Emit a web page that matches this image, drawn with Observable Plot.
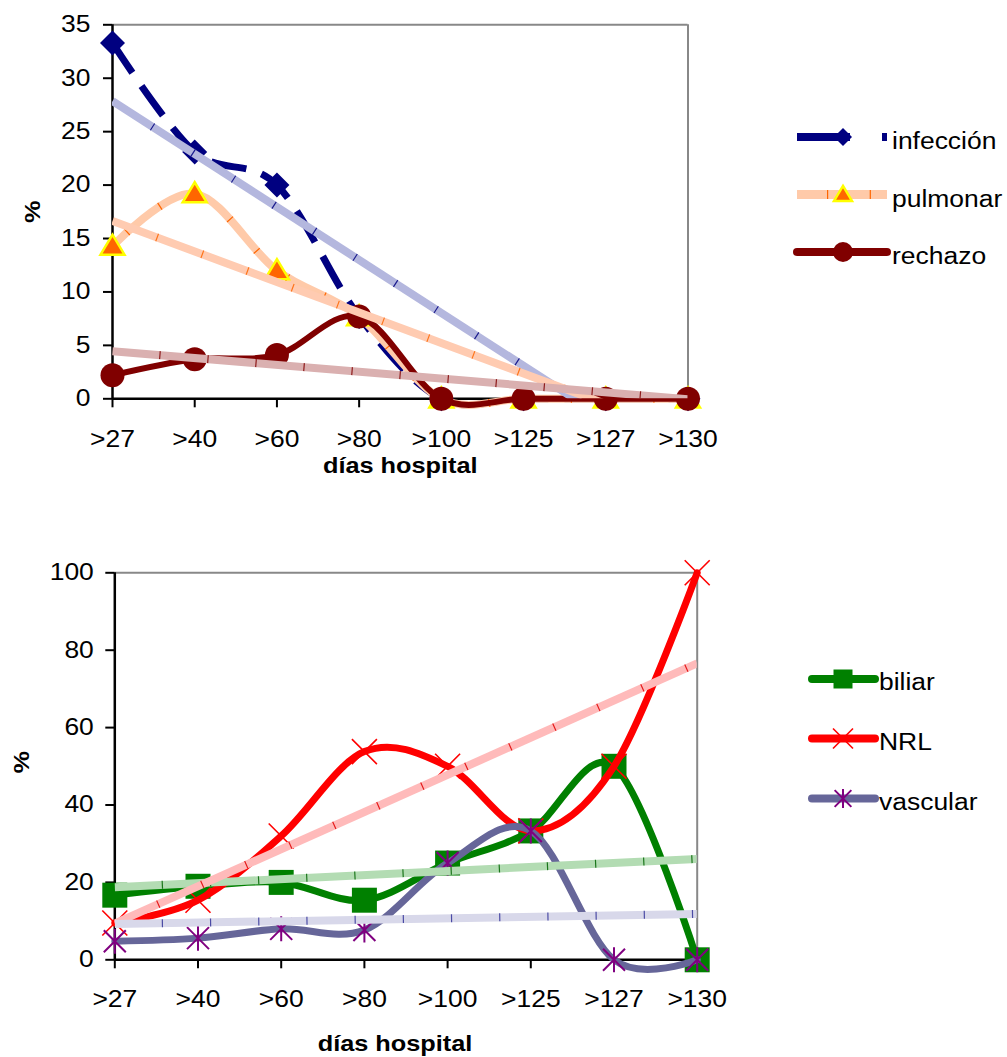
<!DOCTYPE html>
<html><head><meta charset="utf-8">
<script src="https://cdn.jsdelivr.net/npm/d3@7"></script>
<script src="https://cdn.jsdelivr.net/npm/@observablehq/plot@0.6"></script>
<style>
html,body{margin:0;padding:0;background:#fff;}
#page{position:relative;width:1007px;height:1057px;overflow:hidden;background:#fff;font-family:"Liberation Sans",Arial,sans-serif;}
#page svg{position:absolute;}
</style></head><body><div id="page"></div>
<script>
// ---------- data ----------
const labels = [">27", ">40", ">60", ">80", ">100", ">125", ">127", ">130"];
const infeccion = [33.3, 23.1, 20, 7.7, 0, 0, 0, 0];
const pulmonar  = [14.3, 19.2, 12, 7.7, 0, 0, 0, 0];
const rechazo   = [2.2, 3.7, 4.1, 7.7, 0, 0, 0, 0];
const biliar    = [16.7, 19, 20, 15.4, 25, 33.3, 50, 0];
const nrl       = [9.5, 15.4, 32, 53.8, 50, 33.3, 50, 100];
const vascular  = [4.8, 5.6, 8, 7.7, 25, 33.3, 0, 0];
const topTicks    = [0, 5, 10, 15, 20, 25, 30, 35];
const bottomTicks = [0, 20, 40, 60, 80, 100];
const xTitle = "días hospital";
const yTitle = "%";

// ---------- styling ----------
const FONT = '"Liberation Sans", Arial, sans-serif';
const STRETCH = 1.15;
const rad = s => Math.sqrt(s / Math.PI);
const symDiamond = {draw(c, s){const r=rad(s); c.moveTo(0,-r); c.lineTo(r,0); c.lineTo(0,r); c.lineTo(-r,0); c.closePath();}};
const symSquare  = {draw(c, s){const r=rad(s); c.rect(-r,-r,2*r,2*r);}};
const symTri     = {draw(c, s){const r=rad(s); c.moveTo(0,-0.95*r); c.lineTo(r,0.72*r); c.lineTo(-r,0.72*r); c.closePath();}};
const symCircle  = {draw(c, s){const r=rad(s); c.moveTo(r,0); c.arc(0,0,r,0,2*Math.PI);}};
const symX       = {draw(c, s){const r=rad(s); c.moveTo(-r,-r); c.lineTo(r,r); c.moveTo(-r,r); c.lineTo(r,-r);}};
const symAst     = {draw(c, s){const r=rad(s), a=r*0.88; c.moveTo(-a,-a); c.lineTo(a,a); c.moveTo(-a,a); c.lineTo(a,-a); c.moveTo(0,-r); c.lineTo(0,r);}};

const rows = (values) => values.map((v, i) => ({i, v}));

const topSeries = [
  {name: "infección", values: infeccion,
   line: {stroke: "#000080", strokeWidth: 7, strokeDasharray: "36,16", strokeLinecap: "butt"},
   dot: {symbol: symDiamond, r: 12.5, fill: "#000080"}, legendR: 9,
   trend: "#b4b7de", mark: "#000080"},
  {name: "pulmonar", values: pulmonar,
   line: {stroke: "#ffcaa9", strokeWidth: 8, strokeLinecap: "butt"}, lineMark: "#ff6600",
   dot: {symbol: symTri, r: 12, fill: "#ff6600", stroke: "#ffff00", strokeWidth: 2.5}, legendR: 9,
   trend: "#ffcbb1", mark: "#ff6600"},
  {name: "rechazo", values: rechazo,
   line: {stroke: "#800000", strokeWidth: 6},
   dot: {symbol: symCircle, r: 12, fill: "#800000"}, legendR: 10,
   trend: "#dab0b0", mark: "#800000"}
];
const bottomSeries = [
  {name: "biliar", values: biliar,
   line: {stroke: "#008000", strokeWidth: 7},
   dot: {symbol: symSquare, r: 12.5, fill: "#008000"}, legendR: 9.5,
   trend: "#b3dcb3", mark: "#006400"},
  {name: "NRL", values: nrl,
   line: {stroke: "#ff0000", strokeWidth: 7},
   dot: {symbol: symX, r: 12.5, fill: "none", stroke: "#ff0000", strokeWidth: 1.6}, legendR: 10,
   trend: "#ffbaba", mark: "#e00000"},
  {name: "vascular", values: vascular,
   line: {stroke: "#666699", strokeWidth: 7},
   dot: {symbol: symAst, r: 12.5, fill: "none", stroke: "#800080", strokeWidth: 2}, legendR: 9.5,
   trend: "#d8d8ea", mark: "#333399"}
];

function chart(series, ticks, o) {
  const n = labels.length;
  const yMax = ticks[ticks.length - 1];
  const marks = [
    Plot.ruleY([yMax], {stroke: "#888", strokeWidth: 2}),
    Plot.ruleX([n - 1], {stroke: "#888", strokeWidth: 2}),
    Plot.axisY({ticks, tickSize: 9, tickPadding: o.yPad, fontSize: 23, strokeWidth: 2, label: null}),
    Plot.axisX({ticks: d3.range(n), tickFormat: i => labels[i], tickSize: 9, tickPadding: o.xPad, fontSize: 23, strokeWidth: 2, label: null}),
    Plot.ruleX([0], {stroke: "black", strokeWidth: 2.5}),
    Plot.ruleY([0], {stroke: "black", strokeWidth: 2.5}),
  ];
  for (const s of series) {
    const d = rows(s.values);
    marks.push(Plot.line(d, {x: "i", y: "v", curve: "cardinal", ...s.line}));
    if (s.lineMark) marks.push(Plot.line(d, {x: "i", y: "v", curve: "cardinal", stroke: s.lineMark, strokeWidth: s.line.strokeWidth, strokeLinecap: "butt", strokeDasharray: "1.2,40", strokeDashoffset: -20}));
    marks.push(Plot.dot(d, {x: "i", y: "v", ...s.dot}));
  }
  for (const s of series) {
    const d = rows(s.values);
    marks.push(Plot.linearRegressionY(d, {x: "i", y: "v", ci: 0, stroke: s.trend, strokeWidth: 8, strokeLinecap: "butt", clip: true}));
    marks.push(Plot.linearRegressionY(d, {x: "i", y: "v", ci: 0, stroke: s.mark, strokeWidth: 8, strokeOpacity: 0.85, strokeLinecap: "butt", strokeDasharray: "1.2,47", strokeDashoffset: -47, clip: true}));
  }
  marks.push(Plot.text([xTitle], {frameAnchor: "bottom", lineAnchor: "middle", textAnchor: "middle", dy: o.titleDy, dx: o.titleDx, fontWeight: "bold", fontSize: 22}));
  marks.push(Plot.text([yTitle], {frameAnchor: "left", lineAnchor: "middle", textAnchor: "middle", rotate: -90, dx: o.pctDx, dy: o.pctDy, fontWeight: "bold", fontSize: 22}));
  return Plot.plot({
    width: o.width, height: o.height,
    marginLeft: o.ml, marginRight: o.mr, marginTop: o.mt, marginBottom: o.mb,
    x: {type: "linear", domain: [0, n - 1], axis: null},
    y: {type: "linear", domain: [0, yMax], axis: null},
    style: {fontFamily: FONT, fontSize: "23px", color: "black", background: "transparent", overflow: "visible"},
    marks
  });
}

const page = document.getElementById("page");
const top1 = chart(topSeries, topTicks, {width: 720, height: 480, ml: 112, mr: 32.5, mt: 24.3, mb: 81.7, yPad: 13, xPad: 23, titleDy: 67, titleDx: 0, pctDx: -80, pctDy: 0});
top1.style.left = "0px"; top1.style.top = "0px";
page.appendChild(top1);
const bot1 = chart(bottomSeries, bottomTicks, {width: 730, height: 517, ml: 114.3, mr: 33.3, mt: 32.3, mb: 97.7, yPad: 12, xPad: 22, titleDy: 84, titleDx: -11, pctDx: -93, pctDy: -4});
bot1.style.left = "0px"; bot1.style.top = "540px";
page.appendChild(bot1);

// ---------- legends ----------
const leg = d3.select(page).append("svg").attr("width", 1007).attr("height", 1057)
  .style("left", "0px").style("top", "0px").style("font-family", FONT);

function legend(series, ys, x1, x2, xm, xt, dyText) {
  series.forEach((s, k) => {
    const y = ys[k];
    const g = leg.append("g");
    const isHatched = !!s.lineMark;
    const isDashed = !!s.line.strokeDasharray;
    g.append("line").attr("x1", x1).attr("x2", x2).attr("y1", y).attr("y2", y)
      .attr("stroke", s.line.stroke).attr("stroke-width", isHatched ? 9 : 8)
      .attr("stroke-linecap", (isHatched || isDashed) ? "butt" : "round")
      .attr("stroke-dasharray", isDashed ? "53,32,5,200" : null);
    if (isHatched) {
      g.append("line").attr("x1", x1).attr("x2", x2).attr("y1", y).attr("y2", y)
        .attr("stroke", s.lineMark).attr("stroke-width", 9)
        .attr("stroke-dasharray", "1.2,41.5").attr("stroke-dashoffset", -30);
    }
    const sym = d3.symbol(s.dot.symbol, Math.PI * s.legendR * s.legendR);
    g.append("path").attr("d", sym()).attr("transform", `translate(${xm},${y})`)
      .attr("fill", s.dot.fill).attr("stroke", s.dot.stroke || "none")
      .attr("stroke-width", s.dot.strokeWidth || 0);
    g.append("text").attr("x", xt).attr("y", y + dyText).attr("font-size", 23).attr("fill", "black").text(s.name);
  });
}
legend(topSeries, [137, 194.5, 252], 797, 887, 843, 892, 12);
legend(bottomSeries, [679, 738.5, 798.5], 812, 875, 843, 879, 11);

// ---------- horizontal glyph stretch to match the reference's wide type ----------
document.querySelectorAll("#page svg text").forEach(t => {
  const L = t.getComputedTextLength();
  if (L > 0) { t.setAttribute("textLength", (L * STRETCH).toFixed(2)); t.setAttribute("lengthAdjust", "spacingAndGlyphs"); }
});
</script></body></html>
